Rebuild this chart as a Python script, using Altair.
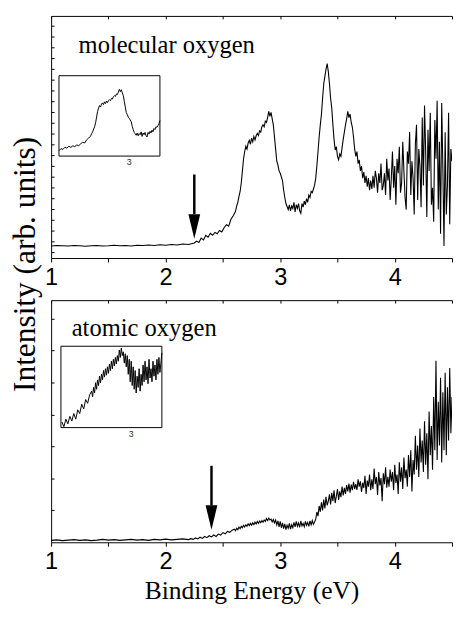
import altair as alt
import pandas as pd

# ---------------- data ----------------
TOP_E = [
    1.00, 1.05, 1.10, 1.15, 1.20, 1.25, 1.30, 1.35, 1.40, 1.45, 1.50, 1.55, 1.60,
    1.65, 1.70, 1.75, 1.80, 1.85, 1.90, 1.95, 2.00, 2.05, 2.10, 2.15, 2.20, 2.25,
    2.27, 2.29, 2.31, 2.33, 2.35, 2.37, 2.39, 2.41, 2.43, 2.45, 2.47, 2.49, 2.51,
    2.53, 2.55, 2.57, 2.59, 2.61,
    2.62, 2.63, 2.64, 2.65, 2.66, 2.67, 2.68, 2.69,
    2.70, 2.71, 2.72, 2.73, 2.74, 2.75, 2.76, 2.77, 2.78, 2.79,
    2.80, 2.81, 2.82, 2.83, 2.84, 2.85, 2.86, 2.87, 2.88, 2.89,
    2.90, 2.91, 2.92, 2.93, 2.94, 2.95, 2.96, 2.97, 2.98, 2.99,
    3.00, 3.01, 3.02, 3.03, 3.04, 3.05, 3.06, 3.07, 3.08, 3.09,
    3.10, 3.11, 3.12, 3.13, 3.14, 3.15, 3.16, 3.17, 3.18, 3.19,
    3.20, 3.21, 3.22, 3.23, 3.24, 3.25, 3.26, 3.27, 3.28, 3.29,
    3.30, 3.31, 3.32, 3.33, 3.34, 3.35, 3.36, 3.37, 3.38, 3.39,
    3.40, 3.41, 3.42, 3.43, 3.44, 3.45, 3.46, 3.47, 3.48, 3.49,
    3.50, 3.51, 3.52, 3.53, 3.54, 3.55, 3.56, 3.57, 3.58, 3.59,
    3.60, 3.61, 3.62, 3.63, 3.64, 3.65, 3.66, 3.67, 3.68, 3.69,
    3.70, 3.71, 3.72, 3.73, 3.74, 3.75, 3.76, 3.77, 3.78, 3.79,
    3.80, 3.81, 3.82, 3.83, 3.84, 3.85, 3.86, 3.87, 3.88, 3.89,
    3.90, 3.91, 3.92, 3.93, 3.94, 3.95, 3.96, 3.97, 3.98, 3.99,
    4.00, 4.01, 4.02, 4.03, 4.04, 4.05, 4.06, 4.07, 4.08, 4.09,
    4.10, 4.11, 4.12, 4.13, 4.14, 4.15, 4.16, 4.17, 4.18, 4.19,
    4.20, 4.21, 4.22, 4.23, 4.24, 4.25, 4.26, 4.27, 4.28, 4.29,
    4.30, 4.31, 4.32, 4.33, 4.34, 4.35, 4.36, 4.37, 4.38, 4.39,
    4.40, 4.41, 4.42, 4.43, 4.44, 4.45, 4.46, 4.47, 4.48, 4.49,
    4.50,
]
TOP_I = [
    5.0, 5.2, 5.1, 5.0, 5.2, 5.1, 4.9, 5.1, 5.2, 5.0, 5.1, 5.3, 5.1,
    5.2, 5.0, 5.3, 5.2, 5.4, 5.2, 5.5, 5.3, 5.6, 5.4, 5.8, 5.6, 6.2,
    7.0, 6.4, 8.2, 7.5, 9.4, 8.6, 10.2, 9.4, 10.6, 10.0, 11.4, 10.8, 12.5,
    13.8, 13.2, 16.0, 17.5, 19.3,
    21.5, 23.0, 25.5, 27.5, 31.0, 36.0, 41.0, 44.0,
    46.2, 45.0, 47.5, 48.6, 47.0, 49.5, 48.0, 50.2, 48.8, 50.5,
    51.5, 50.6, 52.5, 52.0, 54.2, 55.0, 54.2, 56.5, 56.0, 58.0,
    60.6, 58.5, 60.2, 57.5, 55.0, 50.0, 45.0, 40.0, 38.5, 36.0,
    35.0, 33.5, 32.0, 28.0, 25.0, 22.5, 21.3, 20.0, 22.0, 19.5,
    21.5, 20.5, 23.0, 19.0, 22.0, 20.5, 22.5, 19.5, 18.5, 22.5,
    21.0, 23.5, 22.0, 24.5, 23.0, 26.0, 25.0, 27.5, 27.0, 28.5,
    30.0, 33.0, 38.0, 44.0, 50.0, 55.0, 59.4, 66.0, 72.0, 75.0,
    78.0, 80.3, 77.0, 72.0, 66.0, 62.0, 55.0, 49.0, 44.6, 46.0,
    42.0, 40.6, 43.0, 42.0, 45.5, 49.0, 52.0, 55.0, 57.5, 60.6,
    58.0, 59.5, 56.0, 54.0, 50.0, 45.0, 42.0, 44.0, 39.0, 40.5,
    36.0, 38.0, 33.0, 35.5, 31.0, 34.0, 29.5, 33.0, 28.0, 32.0,
    28.5, 34, 29, 36, 33, 27, 35, 31, 39, 28,
    30, 35, 26, 41, 32, 37, 24, 33, 44, 29,
    38, 22, 41, 35, 46, 27, 31, 48, 36, 25,
    20, 44, 39, 52, 26, 40, 33, 18, 47, 55,
    24, 45, 38, 21, 58, 30, 63, 44, 17, 53,
    36, 60, 22, 29, 15, 57, 41, 65, 20, 48,
    10, 64, 37, 5, 52, 18, 30, 60, 14, 45,
    40,
]

BOT_E = [
    1.00, 1.05, 1.10, 1.15, 1.20, 1.25, 1.30, 1.35, 1.40, 1.45, 1.50, 1.55, 1.60,
    1.65, 1.70, 1.75, 1.80, 1.85, 1.90, 1.95, 2.00, 2.05, 2.10, 2.15, 2.20,
    2.22, 2.24, 2.26, 2.28, 2.30, 2.32, 2.34, 2.36, 2.38, 2.40, 2.42, 2.44, 2.46,
    2.48, 2.50, 2.52, 2.54, 2.56, 2.58,
    2.60, 2.61, 2.62, 2.63, 2.64, 2.65, 2.66, 2.67, 2.68, 2.69,
    2.70, 2.71, 2.72, 2.73, 2.74, 2.75, 2.76, 2.77, 2.78, 2.79,
    2.80, 2.81, 2.82, 2.83, 2.84, 2.85, 2.86, 2.87, 2.88, 2.89,
    2.90, 2.91, 2.92, 2.93, 2.94, 2.95, 2.96, 2.97, 2.98, 2.99,
    3.00, 3.01, 3.02, 3.03, 3.04, 3.05, 3.06, 3.07, 3.08, 3.09,
    3.10, 3.11, 3.12, 3.13, 3.14, 3.15, 3.16, 3.17, 3.18, 3.19,
    3.20, 3.21, 3.22, 3.23, 3.24, 3.25, 3.26, 3.27, 3.28, 3.29,
    3.30, 3.31, 3.32, 3.33, 3.34, 3.35, 3.36, 3.37, 3.38, 3.39,
    3.40, 3.41, 3.42, 3.43, 3.44, 3.45, 3.46, 3.47, 3.48, 3.49,
    3.50, 3.51, 3.52, 3.53, 3.54, 3.55, 3.56, 3.57, 3.58, 3.59,
    3.60, 3.61, 3.62, 3.63, 3.64, 3.65, 3.66, 3.67, 3.68, 3.69,
    3.70, 3.71, 3.72, 3.73, 3.74, 3.75, 3.76, 3.77, 3.78, 3.79,
    3.80, 3.81, 3.82, 3.83, 3.84, 3.85, 3.86, 3.87, 3.88, 3.89,
    3.90, 3.91, 3.92, 3.93, 3.94, 3.95, 3.96, 3.97, 3.98, 3.99,
    4.00, 4.01, 4.02, 4.03, 4.04, 4.05, 4.06, 4.07, 4.08, 4.09,
    4.10, 4.11, 4.12, 4.13, 4.14, 4.15, 4.16, 4.17, 4.18, 4.19,
    4.20, 4.21, 4.22, 4.23, 4.24, 4.25, 4.26, 4.27, 4.28, 4.29,
    4.30, 4.31, 4.32, 4.33, 4.34, 4.35, 4.36, 4.37, 4.38, 4.39,
    4.40, 4.41, 4.42, 4.43, 4.44, 4.45, 4.46, 4.47, 4.48, 4.49,
    4.50,
]
BOT_I = [
    0.8, 1.0, 0.7, 0.9, 1.1, 0.8, 1.0, 0.7, 0.9, 1.2, 0.9, 1.1, 0.8,
    1.0, 1.2, 0.9, 1.1, 0.8, 1.2, 1.0, 1.3, 1.0, 1.2, 1.4, 1.1,
    1.5, 1.2, 1.8, 1.4, 2.1, 1.6, 2.4, 1.9, 2.7, 2.2, 3.0, 2.4, 3.4,
    3.0, 4.0, 3.5, 4.5, 4.1, 5.0,
    5.4, 4.8, 5.8, 5.2, 6.3, 5.6, 6.6, 6.0, 7.0, 6.3,
    7.2, 6.6, 7.6, 6.9, 7.8, 7.1, 8.0, 7.3, 8.3, 7.6,
    8.6, 7.8, 8.8, 8.1, 9.0, 8.3, 9.2, 8.6, 9.8, 9.0,
    10.0, 9.2, 9.6, 8.4, 9.4, 8.0, 9.2, 7.2, 8.8, 6.4,
    8.6, 6.0, 8.0, 5.6, 7.6, 5.2, 7.0, 5.8, 7.8, 5.4,
    7.2, 6.0, 8.2, 6.4, 8.6, 6.6, 8.0, 6.2, 8.8, 6.8,
    7.8, 6.4, 8.6, 7.0, 8.2, 6.6, 8.8, 7.2, 9.0, 7.4,
    8.4, 9.5, 12.5, 10.8, 15.0, 12.6, 16.5, 13.2, 17.6, 14.0,
    18.8, 15.2, 17.0, 19.8, 15.6, 20.4, 17.0, 21.5, 16.2, 19.0,
    22.0, 17.5, 21.0, 18.6, 23.0, 19.4, 22.5, 20.0, 23.6, 21.0,
    24.2, 20.5, 23.8, 21.5, 25.0, 22.0, 24.0, 21.6, 26.0, 23.0,
    25.2, 20.8, 24.6, 22.4, 27.5, 20.0, 25.5, 23.0, 28.0, 21.5,
    26.0, 22.0, 30.5, 24.0, 27.0, 19.5, 29.0, 23.5, 26.5, 17.0,
    28.5, 24.0, 31.0, 22.5, 27.0, 23.0, 30.0, 25.0, 29.0, 21.5,
    32.0, 24.5, 28.0, 20.0, 33.0, 25.0, 31.0, 22.0, 35.0, 26.5,
    30.0, 23.0, 36.0, 27.0, 38.0, 21.0, 34.0, 28.0, 44.0, 30.0,
    40.0, 27.0, 47.0, 33.0, 42.0, 29.0, 50.0, 32.0, 45.0, 26.0,
    54.0, 36.0, 48.0, 30.0, 60.0, 38.0, 75.0, 34.0, 58.0, 40.0,
    68.0, 33.0, 62.0, 38.0, 70.0, 36.0, 64.0, 42.0, 72.0, 45.0,
    60.0,
]

PANEL_LABELS = ["molecular oxygen", "atomic oxygen"]
X_TICKS = [1, 1.5, 2, 2.5, 3, 3.5, 4, 4.5]
X_TITLE = "Binding Energy (eV)"
Y_TITLE = "Intensity (arb. units)"
INSET_TICK_LABEL = ["3"]

# ---------------- layout / style ----------------
W = 409
H = 247
SPACING = 43
X_DOMAIN = [1, 4.5]
INSET_X_DOMAIN = [2.29, 3.31]
SERIF = "Liberation Serif, Times New Roman, Times, DejaVu Serif, serif"
SANS = "Liberation Sans, Arial, Helvetica, sans-serif"
TOP_YTICKS = [round(2.5 + 4.45 * i, 2) for i in range(22)]
BOT_YTICKS = [round(13.2 * i, 1) for i in range(1, 8)]
HEAD_SHAPE = "M-0.48,-1L0.48,-1L0,1Z"


def make_panel(E, I, label, label_x, label_y, arr_x, arr_tail, arr_base, arr_tip,
               yticks, inset_xrange, inset_ydomain, inset_yrange, three_y,
               x_title, y_title):
    df = pd.DataFrame({"E": E, "I": I})
    xs = alt.Scale(domain=X_DOMAIN, nice=False, zero=False)
    ys = alt.Scale(domain=[0, 100], nice=False, zero=False)

    yaxis_kw = dict(orient="right", offset=-W, values=yticks, labels=False,
                    tickSize=3, grid=False, domainColor="black", tickColor="black")
    if y_title:
        yaxis_kw.update(titleAngle=270, titleX=-42, titleY=253, titleAlign="center",
                        titleBaseline="top", titleFont=SERIF, titleFontSize=32,
                        titleFontWeight="normal", titleColor="black")
    yaxis = alt.Axis(**yaxis_kw)

    def Y(field):
        return alt.Y(field, type="quantitative", scale=ys, axis=yaxis, title=y_title)

    xaxis_bottom = alt.Axis(
        orient="bottom", values=X_TICKS,
        labelExpr="datum.value % 1 == 0 ? format(datum.value, 'd') : ''",
        tickSize=4, labelPadding=4, labelFont=SANS, labelFontSize=24,
        labelColor="black", labelFlush=False, labelOverlap=False,
        domainColor="black", tickColor="black", grid=False,
        titleFont=SERIF, titleFontSize=26, titleFontWeight="normal",
        titleColor="black", titlePadding=4,
    )
    xaxis_top = alt.Axis(orient="bottom", offset=-H, values=X_TICKS, labels=False,
                         tickSize=3, domainColor="black", tickColor="black", grid=False)

    line = alt.Chart(df).mark_line(color="black", strokeWidth=1.1, clip=True).encode(
        x=alt.X("E:Q", scale=xs, axis=xaxis_bottom, title=x_title),
        y=Y("I"),
    )
    lab_df = pd.DataFrame({"x": [label_x], "y": [label_y], "t": [label]})
    text = alt.Chart(lab_df).mark_text(
        align="left", baseline="alphabetic", font=SERIF, fontSize=25, color="black"
    ).encode(
        x=alt.X("x:Q", scale=xs, axis=xaxis_top, title=None),
        y=Y("y"),
        text="t:N",
    )
    arr_df = pd.DataFrame({"x": [arr_x], "tail": [arr_tail], "base": [arr_base],
                           "mid": [(arr_base + arr_tip) / 2]})
    shaft = alt.Chart(arr_df).mark_rule(color="black", strokeWidth=2.5).encode(
        x=alt.X("x:Q", scale=xs, axis=None),
        y=Y("tail"),
        y2="base:Q",
    )
    head = alt.Chart(arr_df).mark_point(
        shape=HEAD_SHAPE, size=625, filled=True, color="black", opacity=1, strokeWidth=0
    ).encode(
        x=alt.X("x:Q", scale=xs, axis=None),
        y=Y("mid"),
    )
    main = alt.layer(line, text, shaft, head).resolve_axis(x="independent")

    ixs = alt.Scale(domain=INSET_X_DOMAIN, range=inset_xrange, nice=False, zero=False)
    iys = alt.Scale(domain=inset_ydomain, range=inset_yrange, nice=False, zero=False)
    frame_df = pd.DataFrame({"x1": [INSET_X_DOMAIN[0]], "x2": [INSET_X_DOMAIN[1]],
                             "y1": [inset_ydomain[0]], "y2": [inset_ydomain[1]]})
    frame = alt.Chart(frame_df).mark_rect(
        fillOpacity=0, stroke="black", strokeWidth=1
    ).encode(
        x=alt.X("x1:Q", scale=ixs, axis=None),
        x2="x2:Q",
        y=alt.Y("y1:Q", scale=iys, axis=None),
        y2="y2:Q",
    )
    iline = alt.Chart(df).transform_filter(
        (alt.datum.E >= INSET_X_DOMAIN[0]) & (alt.datum.E <= INSET_X_DOMAIN[1])
    ).mark_line(color="black", strokeWidth=1).encode(
        x=alt.X("E:Q", scale=ixs, axis=None),
        y=alt.Y("I:Q", scale=iys, axis=None),
    )
    three_df = pd.DataFrame({"x": [3.0], "t": INSET_TICK_LABEL})
    three = alt.Chart(three_df).mark_text(
        font=SANS, fontSize=9, baseline="middle", color="#333333"
    ).encode(
        x=alt.X("x:Q", scale=ixs, axis=None),
        y=alt.value(three_y),
        text="t:N",
    )
    inset = alt.layer(frame, iline, three)

    return alt.layer(main, inset).resolve_scale(
        x="independent", y="independent"
    ).properties(width=W, height=H)


top = make_panel(TOP_E, TOP_I, PANEL_LABELS[0], 1.24, 84.7,
                 2.25, 34.5, 18.1, 8.0, TOP_YTICKS,
                 [8, 111], [1.6, 72.6], [143, 61], 149,
                 None, Y_TITLE)
bottom = make_panel(BOT_E, BOT_I, PANEL_LABELS[1], 1.18, 85.2,
                    2.40, 31.6, 15.2, 5.2, BOT_YTICKS,
                    [10, 113], [1.5, 10.2], [130, 47], 137,
                    X_TITLE, None)

chart = alt.vconcat(top, bottom, spacing=SPACING).properties(
    bounds="flush",
    padding={"left": 0, "top": 1, "right": 0, "bottom": 0},
    background="white",
).configure_view(stroke="transparent")

chart.save("out.html", embed_options={"renderer": "svg", "actions": False})
